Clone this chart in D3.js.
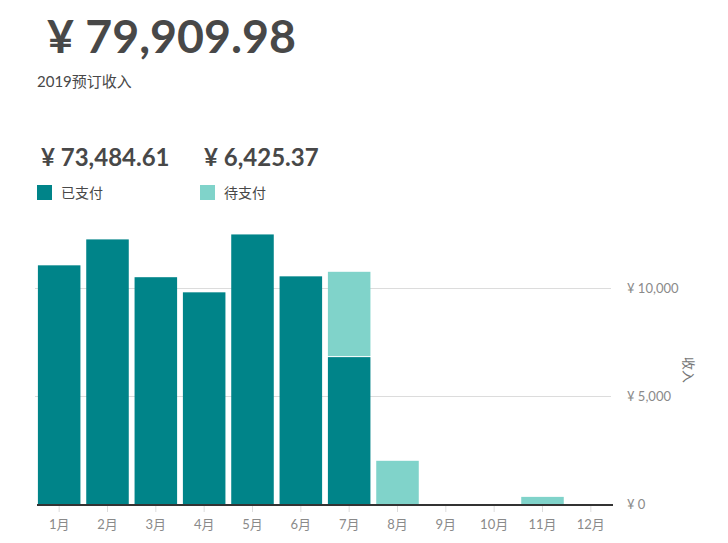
<!DOCTYPE html>
<html><head><meta charset="utf-8">
<script src="https://cdn.jsdelivr.net/npm/d3@7"></script>
<style>body{margin:0;background:#fff}svg{display:block}</style>
</head><body>
<svg id="c" width="728" height="543"></svg>
<script>
const months = ["1月","2月","3月","4月","5月","6月","7月","8月","9月","10月","11月","12月"];
const paid =    [11050,12250,10500,9800,12480,10540,6800,0,0,0,0,0];
const pending = [0,0,0,0,0,0,3950,2000,0,0,330,0];
const yTicks = [0,5000,10000];
const totalText = "¥ 79,909.98";
const subtitle = "2019预订收入";
const legendItems = [{label:"已支付", amount:"¥ 73,484.61"},{label:"待支付", amount:"¥ 6,425.37"}];
const colors = ["#008489","#80d3ca"];

const font = "Lato, 'Noto Sans CJK SC', sans-serif";
const svg = d3.select("#c");
const x = d3.scaleBand().domain(months).range([35,615]).paddingInner(0.12).paddingOuter(0.06);
const y = d3.scaleLinear().domain([0,10000]).range([504,288]);

// title
svg.append("text").attr("x",47).attr("y",53).text(totalText)
  .attr("font-family",font).attr("font-weight",700).attr("font-size",46.5).attr("fill","#484848");
svg.append("text").attr("x",37).attr("y",87).text(subtitle)
  .attr("font-family",font).attr("font-size",15).attr("fill","#484848");

// legend
const lx = [37,200];
legendItems.forEach((d,i)=>{
  svg.append("text").attr("x",lx[i]+4).attr("y",166).text(d.amount)
    .attr("font-family",font).attr("font-weight",700).attr("font-size",24).attr("fill","#484848");
  svg.append("rect").attr("x",lx[i]).attr("y",185).attr("width",15).attr("height",15).attr("fill",colors[i]);
  svg.append("text").attr("x",lx[i]+24).attr("y",198).text(d.label)
    .attr("font-family",font).attr("font-size",14).attr("fill","#484848");
});

// grid
svg.append("g").selectAll("line").data(yTicks.filter(t=>t>0)).join("line")
  .attr("x1",35).attr("x2",611).attr("y1",d=>y(d)+0.5).attr("y2",d=>y(d)+0.5)
  .attr("stroke","#dcdcdc").attr("stroke-width",1);

// bars
const g = svg.append("g");
months.forEach((m,i)=>{
  if(paid[i]>0) g.append("rect").attr("x",x(m)).attr("width",x.bandwidth())
    .attr("y",y(paid[i])).attr("height",y(0)-y(paid[i])).attr("fill",colors[0]);
  if(pending[i]>0) {
    const top = y(paid[i]+pending[i]), bot = y(paid[i]) - (paid[i]>0?1:0);
    g.append("rect").attr("x",x(m)).attr("width",x.bandwidth())
      .attr("y",top).attr("height",bot-top).attr("fill",colors[1]);
  }
});

// baseline
svg.append("line").attr("x1",37).attr("x2",613).attr("y1",y(0)+1).attr("y2",y(0)+1)
  .attr("stroke","#333").attr("stroke-width",2);

// x axis
const xa = svg.append("g").attr("transform",`translate(0,${y(0)+2})`)
  .call(d3.axisBottom(x).tickSize(6).tickPadding(8));
xa.select(".domain").remove();
xa.selectAll(".tick line").attr("stroke","#ddd");
xa.selectAll(".tick text").attr("font-family",font).attr("font-size",13).attr("fill","#8a8a8a");

// y axis labels
const ya = svg.append("g").attr("transform","translate(612,0)")
  .call(d3.axisRight(y).tickValues(yTicks).tickSize(0).tickPadding(15).tickFormat(d=>"¥ "+d3.format(",")(d)));
ya.select(".domain").remove();
ya.selectAll(".tick text").attr("font-family",font).attr("font-size",13).attr("fill","#8a8a8a");

svg.append("text").attr("transform","translate(684,370) rotate(90)").attr("text-anchor","middle")
  .text("收入").attr("font-family",font).attr("font-size",13).attr("fill","#767676");
</script>
</body></html>
